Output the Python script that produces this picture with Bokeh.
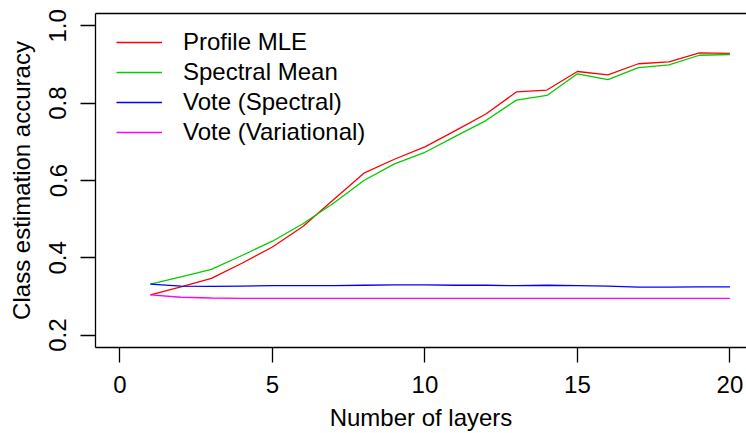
import math
from bokeh.plotting import figure
from bokeh.models import Legend, LegendItem, LinearAxis, Range1d, FixedTicker, PrintfTickFormatter
from bokeh.embed import file_html
from bokeh.resources import INLINE

layers = list(range(1, 21))
profile_mle = [0.304, 0.325, 0.347, 0.386, 0.428, 0.481, 0.550, 0.619, 0.655, 0.687,
               0.729, 0.772, 0.829, 0.834, 0.882, 0.873, 0.902, 0.907, 0.930, 0.929]
spectral_mean = [0.332, 0.351, 0.370, 0.406, 0.443, 0.488, 0.541, 0.600, 0.643, 0.673,
                 0.714, 0.755, 0.808, 0.820, 0.876, 0.861, 0.892, 0.899, 0.924, 0.926]
vote_spectral = [0.332, 0.327, 0.326, 0.327, 0.328, 0.328, 0.328, 0.329, 0.330, 0.330,
                 0.329, 0.329, 0.328, 0.329, 0.328, 0.327, 0.324, 0.324, 0.325, 0.325]
vote_variational = [0.304, 0.298, 0.296, 0.295, 0.295, 0.295, 0.295, 0.295, 0.295, 0.295,
                    0.295, 0.295, 0.295, 0.295, 0.295, 0.295, 0.295, 0.295, 0.295, 0.295]
series_names = ["Profile MLE", "Spectral Mean", "Vote (Spectral)", "Vote (Variational)"]
series_colors = ["#FF0000", "#00CD00", "#0000FF", "#FF00FF"]
x_ticks = [0, 5, 10, 15, 20]
y_ticks = [0.2, 0.4, 0.6, 0.8, 1.0]

FONT = "Liberation Sans"
FS = "24px"

p = figure(width=746, height=433, output_backend="svg", toolbar_location=None,
           x_range=Range1d(-0.8, 20.544), y_range=Range1d(0.168, 1.032),
           min_border_left=95, min_border_right=0, min_border_top=13, min_border_bottom=86,
           x_axis_label="Number of layers", y_axis_label="Class estimation accuracy")
p.outline_line_color = None
p.xgrid.visible = False
p.ygrid.visible = False
p.background_fill_color = "white"
p.border_fill_color = "white"

for ax in (p.xaxis[0], p.yaxis[0]):
    ax.axis_line_color = "black"
    ax.axis_line_width = 1.3
    ax.major_tick_line_color = "black"
    ax.major_tick_line_width = 1.3
    ax.major_tick_out = 15
    ax.major_tick_in = 0
    ax.minor_tick_line_color = None
    ax.major_label_text_font = FONT
    ax.major_label_text_font_size = FS
    ax.major_label_text_color = "black"
    ax.axis_label_text_font = FONT
    ax.axis_label_text_font_size = FS
    ax.axis_label_text_font_style = "normal"
    ax.axis_label_text_color = "black"

p.xaxis[0].ticker = FixedTicker(ticks=x_ticks)
p.yaxis[0].ticker = FixedTicker(ticks=y_ticks)
p.yaxis[0].formatter = PrintfTickFormatter(format="%.1f")
p.yaxis[0].major_label_orientation = "parallel"
p.xaxis[0].major_label_standoff = 13
p.xaxis[0].axis_label_standoff = 8
p.yaxis[0].major_label_standoff = 14
p.yaxis[0].axis_label_standoff = 12

top = LinearAxis(ticker=FixedTicker(ticks=[]), major_label_text_font_size="0px",
                 major_tick_line_color=None, minor_tick_line_color=None,
                 axis_line_color="black", axis_line_width=1.3)
p.add_layout(top, "above")

all_series = [profile_mle, spectral_mean, vote_spectral, vote_variational]
items = []
for name, col, ys in zip(series_names, series_colors, all_series):
    r = p.line(layers, ys, line_color=col, line_width=1.3)
    items.append(LegendItem(label=name, renderers=[r]))

legend = Legend(items=items, location=(21, 200), padding=0, margin=0, spacing=0,
                glyph_width=46, glyph_height=30, label_height=30, label_standoff=21,
                label_text_font=FONT, label_text_font_size=FS, label_text_color="black",
                border_line_color=None, background_fill_alpha=0)
p.add_layout(legend)

open("out.html", "w").write(file_html(p, INLINE))
